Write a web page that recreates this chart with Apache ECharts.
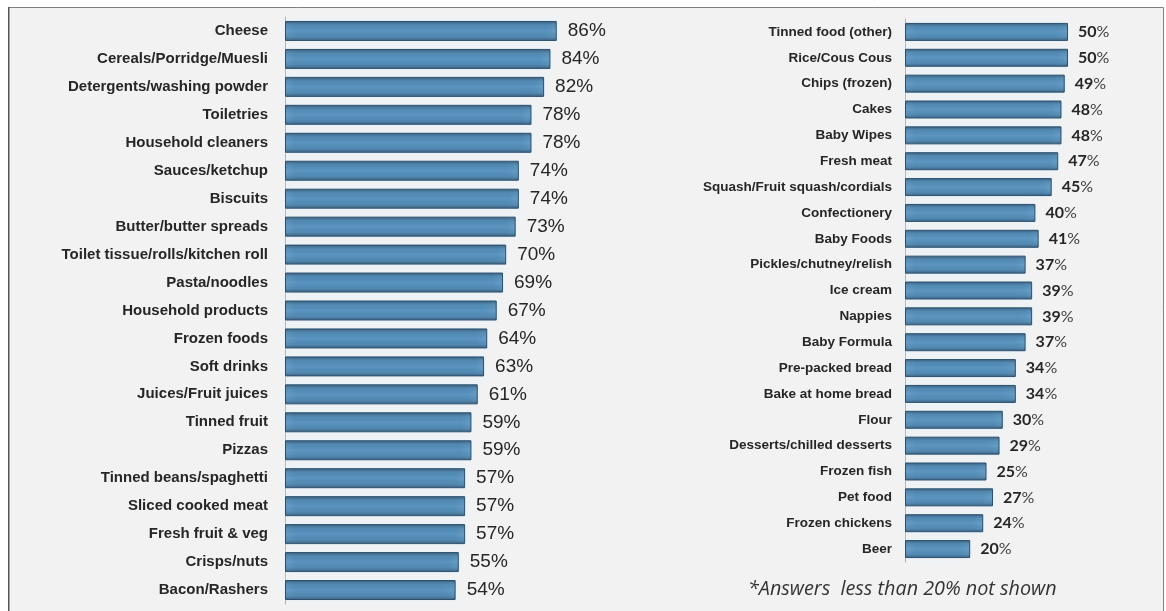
<!DOCTYPE html>
<html>
<head>
<meta charset="utf-8">
<script src="https://cdn.jsdelivr.net/npm/echarts@6/dist/echarts.min.js"></script>
<style>
html,body{margin:0;padding:0;background:#ffffff;}
#chart{width:1166px;height:611px;}
</style>
</head>
<body>
<div id="chart"></div>
<script>
const leftCategories = ["Cheese","Cereals/Porridge/Muesli","Detergents/washing powder","Toiletries","Household cleaners","Sauces/ketchup","Biscuits","Butter/butter spreads","Toilet tissue/rolls/kitchen roll","Pasta/noodles","Household products","Frozen foods","Soft drinks","Juices/Fruit juices","Tinned fruit","Pizzas","Tinned beans/spaghetti","Sliced cooked meat","Fresh fruit & veg","Crisps/nuts","Bacon/Rashers"];
const leftValues = [86,84,82,78,78,74,74,73,70,69,67,64,63,61,59,59,57,57,57,55,54];
const rightCategories = ["Tinned food (other)","Rice/Cous Cous","Chips (frozen)","Cakes","Baby Wipes","Fresh meat","Squash/Fruit squash/cordials","Confectionery","Baby Foods","Pickles/chutney/relish","Ice cream","Nappies","Baby Formula","Pre-packed bread","Bake at home bread","Flour","Desserts/chilled desserts","Frozen fish","Pet food","Frozen chickens","Beer"];
const rightValues = [50,50,49,48,48,47,45,40,41,37,39,39,37,34,34,30,29,25,27,24,20];
const footnote = "*Answers  less than 20% not shown";

const barGradient = new echarts.graphic.LinearGradient(0,0,0,1,[
  {offset:0,color:'#284f6c'},
  {offset:0.2,color:'#4680ab'},
  {offset:0.5,color:'#5893bf'},
  {offset:0.8,color:'#4680ab'},
  {offset:1,color:'#284f6c'}
]);
const barStyle = {
  color: barGradient,
  borderColor: '#2a5070',
  borderWidth: 1,
  shadowColor: 'rgba(232,243,251,1)',
  shadowBlur: 8
};

const chart = echarts.init(document.getElementById('chart'));
chart.setOption({
  animation: false,
  backgroundColor: '#ffffff',
  graphic: [
    {type:'rect', z:-10, shape:{x:8.5,y:7.5,width:1155,height:620}, style:{fill:'#f2f2f2', stroke:'#7f7f7f', lineWidth:1}},
    {type:'rect', z:-9, shape:{x:8,y:7,width:1.5,height:620}, style:{fill:'#555'}},
    {type:'text', left:748, top:579, style:{text:footnote, font:'italic 19.8px "Open Sans"', fill:'#333'}}
  ],
  grid: [
    {left:285, top:17, width:316, height:587},
    {left:905, top:19, width:228.2, height:543}
  ],
  xAxis: [
    {gridIndex:0, type:'value', min:0, max:100, show:false},
    {gridIndex:1, type:'value', min:0, max:70, show:false}
  ],
  yAxis: [
    {gridIndex:0, type:'category', inverse:true, data:leftCategories,
     axisLine:{lineStyle:{color:'#a6a6a6'}}, axisTick:{show:false},
     axisLabel:{margin:17, color:'#262626', fontWeight:'bold', fontSize:15, fontFamily:'Liberation Sans, Arial'}},
    {gridIndex:1, type:'category', inverse:true, data:rightCategories,
     axisLine:{lineStyle:{color:'#a6a6a6'}}, axisTick:{show:false},
     axisLabel:{margin:13, color:'#262626', fontWeight:'bold', fontSize:13.5, fontFamily:'Liberation Sans, Arial'}}
  ],
  series: [
    {type:'bar', xAxisIndex:0, yAxisIndex:0, data:leftValues, barWidth:20, itemStyle:barStyle,
     label:{show:true, position:'right', distance:11, formatter:'{c}%', color:'#262626', fontSize:19, fontFamily:'Liberation Sans, Arial'}},
    {type:'bar', xAxisIndex:1, yAxisIndex:1, data:rightValues, barWidth:18, itemStyle:barStyle,
     label:{show:true, position:'right', distance:10,
       formatter: p => '{n|' + p.value + '}{p|%}',
       rich:{
         n:{color:'#262626', fontSize:16, fontWeight:'bold', fontFamily:'Lato'},
         p:{color:'#404040', fontSize:16, fontFamily:'Lato'}
       }}}
  ]
});
</script>
</body>
</html>
